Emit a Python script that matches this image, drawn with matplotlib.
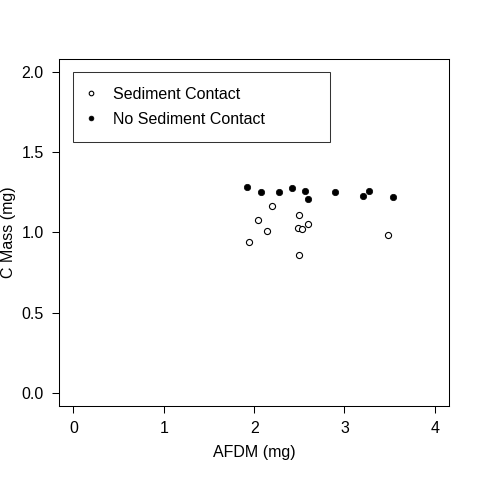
import matplotlib
matplotlib.use("Agg")
import matplotlib.pyplot as plt

plt.rcParams['font.family'] = ['Liberation Sans', 'DejaVu Sans']

# AFDM (mg) vs C mass (mg)
contact_afdm = [2.20, 2.50, 2.04, 2.60, 2.48, 2.53, 2.14, 1.94, 3.48, 2.50]
contact_cmass = [1.162, 1.108, 1.077, 1.051, 1.026, 1.020, 1.007, 0.943, 0.985, 0.861]

no_contact_afdm = [1.92, 2.08, 2.28, 2.42, 2.56, 2.60, 2.90, 3.20, 3.27, 3.54]
no_contact_cmass = [1.284, 1.249, 1.251, 1.274, 1.257, 1.207, 1.255, 1.226, 1.259, 1.220]

xticks = [0, 1, 2, 3, 4]
yticks = [0.0, 0.5, 1.0, 1.5, 2.0]

fs = 11.5

fig = plt.figure(figsize=(4.8, 4.8), dpi=100)
ax = fig.add_axes([0.1229, 0.1542, 0.8131, 0.7229])

ax.plot(contact_afdm, contact_cmass, 'o', ms=4.4, mfc='white', mec='black', mew=0.8,
        linestyle='none', label='Sediment Contact')
ax.plot(no_contact_afdm, no_contact_cmass, 'o', ms=4.6, mfc='black', mec='black', mew=0.5,
        linestyle='none', label='No Sediment Contact')

ax.set_xlim(-0.16, 4.16)
ax.set_ylim(-0.08, 2.08)
ax.set_xticks(xticks)
ax.set_yticks(yticks)
ax.set_xticklabels([str(t) for t in xticks])
ax.set_yticklabels([f'{t:.1f}' for t in yticks])
ax.tick_params(length=5, width=0.75, pad=6, labelsize=fs)
for s in ax.spines.values():
    s.set_linewidth(0.75)

ax.set_xlabel('AFDM (mg)', fontsize=fs, labelpad=6)
ax.set_ylabel('C Mass (mg)', fontsize=fs, labelpad=4)

leg = ax.legend(loc='upper left', bbox_to_anchor=(0.0, 1.558, 2.84, 0.442),
                bbox_transform=ax.transData, mode='expand', fontsize=fs,
                frameon=True, fancybox=False, edgecolor='black', borderpad=0.95,
                labelspacing=0.62, handlelength=0.3, handletextpad=1.25,
                borderaxespad=0.0, markerscale=0.75)
leg.get_frame().set_linewidth(0.75)

fig.savefig('out.png', dpi=100)
